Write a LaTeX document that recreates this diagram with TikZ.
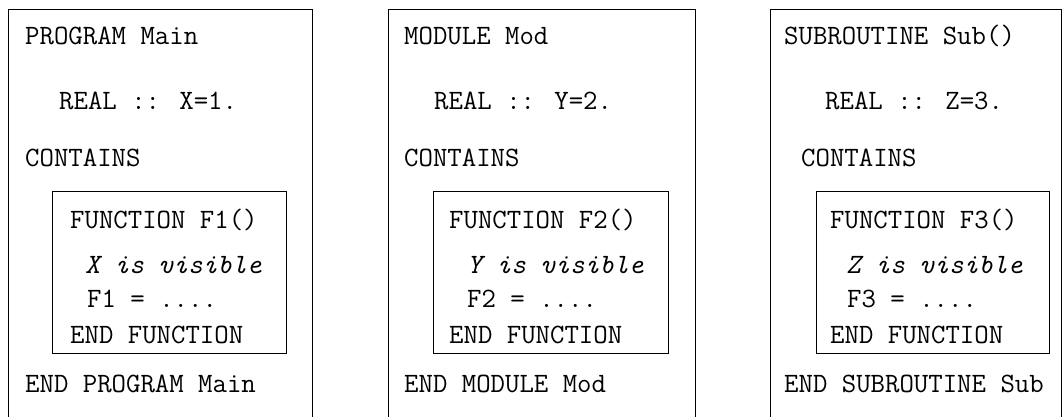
\documentclass[tikz,border=0pt]{standalone}
\usepackage{fontspec}
\begin{document}
\begin{tikzpicture}[x=1pt,y=-1pt,
  code/.style={anchor=base west,inner sep=0pt,font=\ttfamily\fontsize{28}{32}\selectfont},
  itcode/.style={code,font=\ttfamily\itshape\fontsize{28}{32}\selectfont},
  frame/.style={draw=black,line width=1pt}]
\useasboundingbox[fill=white] (0,0) rectangle (1063,417);
% outer boxes (bottom edge falls outside the picture)
\draw[frame] (8,430) -- (8,10) -- (312,10) -- (312,430);
\draw[frame] (388,430) -- (388,10) -- (695,10) -- (695,430);
\draw[frame] (770,430) -- (770,10) -- (1061,10) -- (1061,430);
% inner boxes
\draw[frame] (52,191) rectangle (286,353);
\draw[frame] (433,191) rectangle (668,353);
\draw[frame] (816,191) rectangle (1049,353);
% box 1
\node[code] (p1) at (25,45) {PROGRAM Main};
\node[code] (p2) at (59,110) {REAL :: X=1.};
\node[code] (p3) at (25,167) {CONTAINS};
\node[code] (p4) at (70,228) {FUNCTION F1()};
\node[itcode] (p5) at (85,273) {X is visible};
\node[code] (p6) at (87,307) {F1 = ....};
\node[code] (p7) at (70,343) {END FUNCTION};
\node[code] (p8) at (25,392) {END PROGRAM Main};
% box 2
\node[code] (m1) at (404,45) {MODULE Mod};
\node[code] (m2) at (434,110) {REAL :: Y=2.};
\node[code] (m3) at (404,167) {CONTAINS};
\node[code] (m4) at (449,228) {FUNCTION F2()};
\node[itcode] (m5) at (467,273) {Y is visible};
\node[code] (m6) at (467,307) {F2 = ....};
\node[code] (m7) at (449,343) {END FUNCTION};
\node[code] (m8) at (404,392) {END MODULE Mod};
% box 3
\node[code] (s1) at (784,45) {SUBROUTINE Sub()};
\node[code] (s2) at (825,110) {REAL :: Z=3.};
\node[code] (s3) at (801,167) {CONTAINS};
\node[code] (s4) at (830,228) {FUNCTION F3()};
\node[itcode] (s5) at (846,273) {Z is visible};
\node[code] (s6) at (847,307) {F3 = ....};
\node[code] (s7) at (830,343) {END FUNCTION};
\node[code] (s8) at (784,392) {END SUBROUTINE Sub};
\end{tikzpicture}
\end{document}
